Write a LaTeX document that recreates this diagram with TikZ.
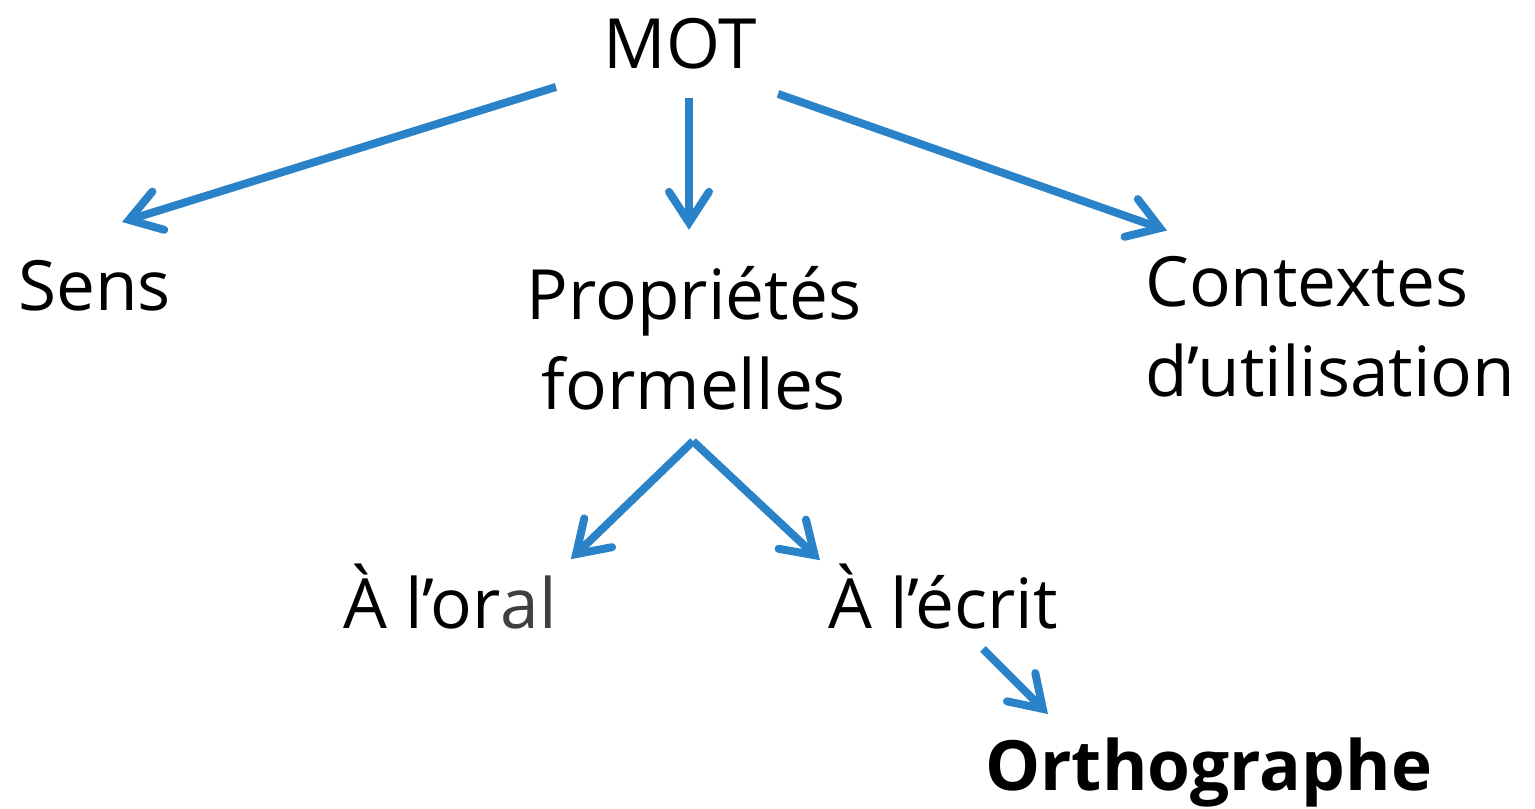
\documentclass[tikz,border=0pt]{standalone}
\usepackage{fontspec}
\setmainfont{Open Sans}
\usetikzlibrary{arrows.meta,calc}
\definecolor{arrblue}{RGB}{42,131,201}
\definecolor{darkgrey}{RGB}{64,64,64}
\tikzset{
  arr/.style={draw=arrblue, line width=6pt, -{Straight Barb[length=23pt,width=30pt,line cap=round]}},
  label/.style={inner sep=0pt, font=\fontsize{52}{67.5}\selectfont}
}
\begin{document}
\begin{tikzpicture}[x=0.75pt,y=0.75pt,yscale=-1,xscale=1]
\path[use as bounding box] (0,0) rectangle (1535,808);

% Text Node
\draw (680,68) node (mot) [label, anchor=base] {MOT};
% Text Node
\draw (18,310) node (sens) [label, anchor=base west] {Sens};
% Text Node
\draw (694,338) node (prop) [label, align=center] {Propriétés\\formelles};
% Text Node
\draw (1145,396) node (ctx) [label, anchor=base west, align=left] {Contextes\\d’utilisation};
% Text Node
\draw (343,628) node (oral) [label, anchor=base west] {À l’or\textcolor{darkgrey}{al}};
% Text Node
\draw (828,628) node (ecrit) [label, anchor=base west] {À l’écrit};
% Text Node
\draw (985,790) node (ortho) [label, anchor=base west, font=\fontsize{52}{67.5}\selectfont\bfseries] {Orthographe};

%Straight Lines
\draw [arr] ($(mot.south)+(-124,18)$) -- ($(sens.base west)+(104,-88)$);
%Straight Lines
\draw [arr] ($(mot.south)+(9,29)$) -- ($(prop.north)+(-5,-36)$);
%Straight Lines
\draw [arr] ($(mot.south)+(98,25)$) -- ($(ctx.north west)+(22,-25)$);
%Straight Lines
\draw [arr] ($(prop.south)+(-1,31)$) -- ($(oral.north east)+(14,-4)$);
%Straight Lines
\draw [arr] ($(prop.south)+(-1,31)$) -- ($(ecrit.north west)+(-8,-3)$);
%Straight Lines
\draw [arr] ($(ecrit.south)+(40,20)$) -- ($(ortho.north west)+(63,-23)$);

\end{tikzpicture}
\end{document}
